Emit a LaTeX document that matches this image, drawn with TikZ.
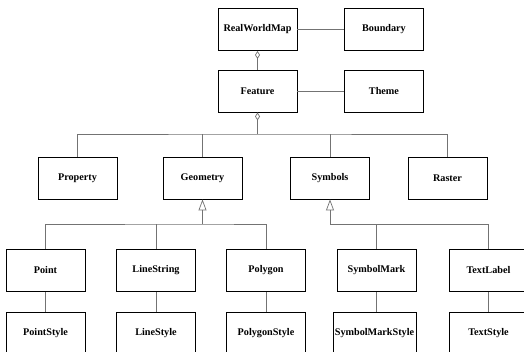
\documentclass[tikz,border=0pt]{standalone}
\usepackage{fontspec}
\setmainfont{Liberation Serif}
\usetikzlibrary{arrows.meta}
\begin{document}
\begin{tikzpicture}[x=1pt,y=-1pt,
  cls/.style={draw=black, line width=0.9pt, fill=white, minimum width=79pt,
    minimum height=42pt, inner sep=1pt, font=\fontsize{10.2}{12}\selectfont\bfseries},
  conn/.style={draw=black!55, line width=0.7pt},
  agg/.style={conn, {Diamond[open,length=8pt,width=5pt,line width=0.7pt]}-},
  inh/.style={conn, -{Triangle[open,length=11pt,width=8pt,line width=0.7pt]}}]
\clip (0,0) rectangle (524,352);
\fill[white] (0,0) rectangle (524,352);

% top level classes
\node[cls] (rwm) at (257.5,29.5) {RealWorldMap};
\node[cls] (bnd) at (384,29.5) {Boundary};
\node[cls] (feat) at (257.5,91) {Feature};
\node[cls] (theme) at (384,91) {Theme};

% feature components
\node[cls] (prop) at (77.5,178) {Property};
\node[cls] (geom) at (202.5,178) {Geometry};
\node[cls] (sym) at (330,178) {Symbols};
\node[cls] (rast) at (447.5,178) {Raster};

% subclasses
\node[cls] (pt) at (45.5,270.5) {Point};
\node[cls] (ls) at (156,270.5) {LineString};
\node[cls] (pg) at (266,270.5) {Polygon};
\node[cls] (sm) at (376.5,270.5) {SymbolMark};
\node[cls] (tl) at (488.5,270.5) {TextLabel};

% styles
\node[cls] (pts) at (45.5,333) {PointStyle};
\node[cls] (lss) at (156,333) {LineStyle};
\node[cls] (pgs) at (266,333) {PolygonStyle};
\node[cls, minimum width=83pt, inner sep=0pt] (sms) at (374.5,333) {SymbolMarkStyle};
\node[cls] (tls) at (488.5,333) {TextStyle};

% associations
\draw[conn] (rwm) -- (bnd);
\draw[conn] (feat) -- (theme);

% aggregations
\draw[agg] (rwm.south) -- (feat.north);
\coordinate (bus1) at (257.5,134);
\draw[agg] (feat.south) -- (bus1);
\draw[conn] (prop.north) |- (bus1) -| (rast.north);
\draw[conn] (geom.north) -- (geom.north |- bus1);
\draw[conn] (sym.north) -- (sym.north |- bus1);

% generalisations
\coordinate (bus2) at (202.5,224);
\draw[inh] (bus2) -- (geom.south);
\draw[conn] (pt.north) |- (bus2) -| (pg.north);
\draw[conn] (ls.north) -- (ls.north |- bus2);
\coordinate (bus3) at (330,224);
\draw[inh] (bus3) -- (sym.south);
\draw[conn] (bus3) -| (tl.north);
\draw[conn] (sm.north) -- (sm.north |- bus3);

% style links
\draw[conn] (pt) -- (pts);
\draw[conn] (ls) -- (lss);
\draw[conn] (pg) -- (pgs);
\draw[conn] (sm.south) -- (sms.north -| sm.south);
\draw[conn] (tl) -- (tls);
\end{tikzpicture}
\end{document}
